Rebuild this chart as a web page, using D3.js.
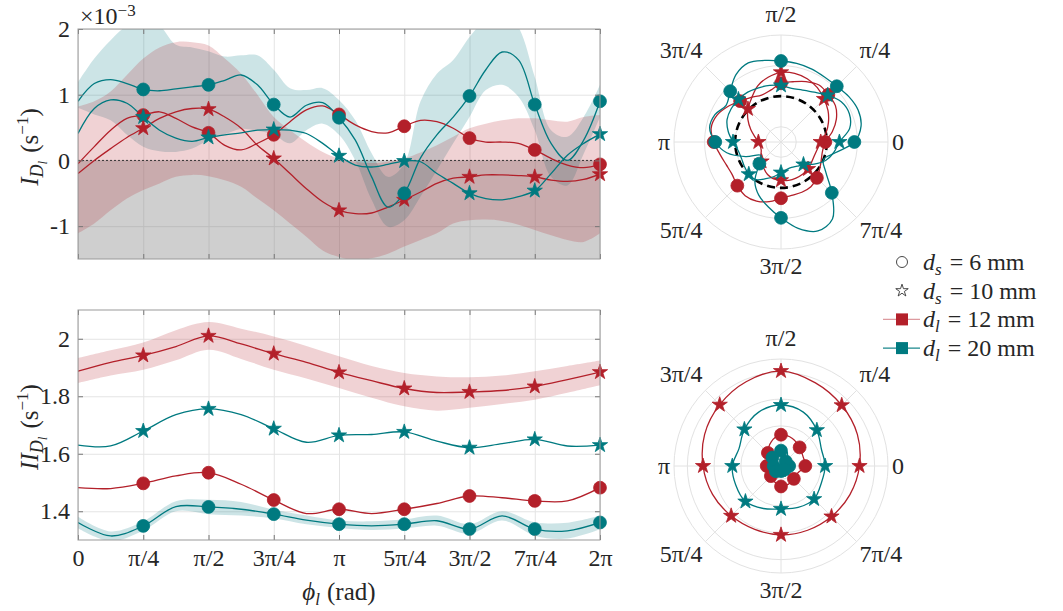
<!DOCTYPE html>
<html>
<head>
<meta charset="utf-8">
<script src="https://cdn.jsdelivr.net/npm/d3@7"></script>
<style>
body { margin: 0; background: #fff; }
svg { font-family: "Liberation Serif", serif; }
</style>
</head>
<body>
<svg id="chart" width="1063" height="611"></svg>
<script>
const PI = Math.PI;

// sample angles: top panel in units of pi/16, bottom panel in units of pi/8
const phiTopUnits = [0,1,2,3,4,5,6,7,8,9,10,11,12,13,14,15,16,17,18,19,20,21,22,23,24,25,26,27,28,29,30,31,32];
const phiBotUnits = [0,1,2,3,4,5,6,7,8,9,10,11,12,13,14,15,16];

// I_Dl (x1e-3 s^-1)
const rcTop = [-0.05,0.21,0.46,0.64,0.69,0.74,0.64,0.51,0.42,0.23,0.16,0.26,0.39,0.59,0.77,0.83,0.70,0.54,0.44,0.42,0.52,0.61,0.59,0.49,0.34,0.28,0.28,0.26,0.16,0.03,-0.07,-0.11,-0.06];
const rsTop = [-0.20,0.00,0.18,0.35,0.49,0.64,0.74,0.79,0.78,0.66,0.49,0.23,0.03,-0.20,-0.43,-0.63,-0.76,-0.81,-0.80,-0.71,-0.60,-0.48,-0.35,-0.27,-0.25,-0.22,-0.22,-0.23,-0.25,-0.30,-0.32,-0.29,-0.21];
const tcTop = [0.90,1.17,1.23,1.17,1.08,1.06,1.09,1.12,1.15,1.22,1.30,1.15,0.85,0.66,0.84,0.88,0.65,0.31,-0.25,-0.71,-0.50,0.04,0.39,0.66,0.98,1.38,1.65,1.53,0.85,0.26,0.00,0.31,0.90];
const tsTop = [0.41,0.79,0.92,0.87,0.66,0.46,0.34,0.29,0.35,0.39,0.42,0.46,0.47,0.46,0.41,0.26,0.07,-0.07,-0.10,-0.06,-0.01,-0.02,-0.20,-0.35,-0.50,-0.58,-0.60,-0.55,-0.46,-0.20,0.08,0.26,0.40];
// uncertainty bands, top panel
const tcUpTop = [1.19,1.55,1.83,2.05,2.15,2.05,1.76,1.72,1.66,1.58,1.60,1.60,1.38,1.10,1.07,1.10,0.92,0.61,0.11,-0.25,-0.05,0.90,1.32,1.53,1.88,2.15,2.30,2.03,1.27,0.46,0.36,0.66,1.15];
const tcLoTop = [0.80,0.70,0.61,0.39,0.21,0.14,0.13,0.18,0.31,0.40,0.48,0.45,0.39,0.26,0.46,0.56,0.39,0.00,-0.60,-1.01,-0.91,-0.55,-0.15,0.26,0.66,1.07,1.15,0.97,0.46,-0.25,-0.38,0.10,0.66];
const rsUpTop = [0.82,0.90,1.05,1.30,1.55,1.72,1.80,1.80,1.75,1.55,1.32,1.00,0.66,0.46,0.28,0.13,0.03,-0.02,-0.04,-0.02,0.03,0.12,0.23,0.36,0.49,0.56,0.61,0.64,0.64,0.61,0.59,0.66,0.69];
const rsLoTop = [-1.11,-0.96,-0.76,-0.58,-0.45,-0.35,-0.25,-0.22,-0.24,-0.30,-0.40,-0.58,-0.76,-0.96,-1.16,-1.37,-1.47,-1.52,-1.49,-1.42,-1.31,-1.21,-1.11,-0.96,-0.91,-0.90,-0.92,-0.98,-1.06,-1.14,-1.21,-1.24,-1.11];

// II_Dl (s^-1)
const rsBot = [1.887,1.918,1.942,1.973,2.010,1.982,1.948,1.918,1.883,1.854,1.827,1.813,1.815,1.820,1.834,1.858,1.884];
const tsBot = [1.630,1.627,1.679,1.736,1.756,1.736,1.687,1.640,1.664,1.667,1.676,1.644,1.621,1.635,1.650,1.627,1.630];
const rcBot = [1.482,1.479,1.497,1.523,1.534,1.494,1.439,1.392,1.407,1.392,1.407,1.427,1.453,1.447,1.436,1.436,1.482];
const tcBot = [1.361,1.314,1.349,1.416,1.415,1.407,1.390,1.369,1.355,1.349,1.355,1.367,1.338,1.384,1.338,1.332,1.361];
const rsUpBot = [1.933,1.960,1.987,2.030,2.058,2.035,2.008,1.975,1.939,1.905,1.881,1.869,1.866,1.872,1.887,1.905,1.924];
const rsLoBot = [1.846,1.872,1.892,1.925,1.962,1.930,1.892,1.862,1.829,1.795,1.765,1.750,1.760,1.773,1.788,1.812,1.838];
const tcUpBot = [1.381,1.330,1.365,1.435,1.440,1.432,1.405,1.385,1.368,1.365,1.372,1.385,1.355,1.400,1.362,1.360,1.385];
const tcLoBot = [1.341,1.296,1.333,1.400,1.390,1.385,1.375,1.355,1.342,1.335,1.340,1.350,1.322,1.368,1.315,1.305,1.337];

const xTickUnits = [0,1,2,3,4,5,6,7,8]; // pi/4
const xTickLabels = ["0","π/4","π/2","3π/4","π","5π/4","3π/2","7π/4","2π"];
const yTopTicks = [-1, 0, 1, 2];
const yTopLabels = ["-1", "0", "1", "2"];
const yBotTicks = [1.4, 1.6, 1.8, 2.0];
const yBotLabels = ["1.4", "1.6", "1.8", "2"];
const polarLabels = ["0","π/4","π/2","3π/4","π","5π/4","3π/2","7π/4"];
const topRings = [-1, 0, 1, 2];
const botRings = [1.4, 1.6, 1.8, 2.0, 2.1];

const teal = "#007a80";
const red = "#b3202a";
const textCol = "#262626";
const fs = 24;

const svg = d3.select("#chart");
const phiTop = phiTopUnits.map(u => u * PI / 16);
const phiBot = phiBotUnits.map(u => u * PI / 8);

const x = d3.scaleLinear().domain([0, 2 * PI]).range([78, 600]);
const yTop = d3.scaleLinear().domain([-1.5, 2]).range([259, 29]);
const yBot = d3.scaleLinear().domain([1.3, 2.1]).range([540, 310]);

const circleSym = d3.symbol().type(d3.symbolCircle).size(130);
const starSym = d3.symbol().type(d3.symbolStar).size(72);

const drawPanel = (id, y, phi, series, bands, yTicks, yLabels, showX, negShade) => {
    const x0 = x.range()[0], x1 = x.range()[1];
    const yb = y.range()[0], yt = y.range()[1];
    const w = x1 - x0, h = yb - yt;

    svg.append("clipPath").attr("id", id)
        .append("rect").attr("x", x0).attr("y", yt).attr("width", w).attr("height", h);

    const g = svg.append("g");

    // grid
    const gx = g.append("g").attr("transform", `translate(0,${yb})`)
        .call(d3.axisBottom(x).tickValues(xTickUnits.map(u => u * PI / 4)).tickSize(-h).tickFormat(""));
    gx.selectAll(".domain").remove();
    gx.selectAll("line").attr("stroke", "#e4e4e4");
    const gy = g.append("g").attr("transform", `translate(${x0},0)`)
        .call(d3.axisLeft(y).tickValues(yTicks).tickSize(-w).tickFormat(""));
    gy.selectAll(".domain").remove();
    gy.selectAll("line").attr("stroke", "#e4e4e4");

    const plot = g.append("g").attr("clip-path", `url(#${id})`);

    if (negShade) {
        plot.append("rect")
            .attr("x", x0).attr("width", w)
            .attr("y", y(0)).attr("height", yb - y(0))
            .attr("fill", "#808080").attr("fill-opacity", 0.38);
    }

    bands.forEach(b => {
        const area = d3.area()
            .x((d, i) => x(phi[i]))
            .y0((d, i) => y(b.lo[i]))
            .y1((d, i) => y(b.up[i]))
            .curve(d3.curveCatmullRom);
        plot.append("path").datum(b.up).attr("d", area)
            .attr("fill", b.color).attr("fill-opacity", 0.2);
    });

    if (negShade) {
        plot.append("line")
            .attr("x1", x0).attr("x2", x1).attr("y1", y(0)).attr("y2", y(0))
            .attr("stroke", "#333").attr("stroke-width", 1).attr("stroke-dasharray", "2,2");
    }

    const line = d3.line().x(d => x(d[0])).y(d => y(d[1])).curve(d3.curveCatmullRom);
    const step = (phi.length - 1) / 8;
    series.forEach(s => {
        const pts = phi.map((p, i) => [p, s.vals[i]]);
        plot.append("path").datum(pts).attr("d", line)
            .attr("fill", "none").attr("stroke", s.color).attr("stroke-width", 1.3);
        const marks = pts.filter((d, i) => i > 0 && i % step === 0);
        g.selectAll(null).data(marks).enter().append("path")
            .attr("transform", d => `translate(${x(d[0])},${y(d[1])})`)
            .attr("d", s.marker === "star" ? starSym : circleSym)
            .attr("fill", s.color).attr("stroke", s.color).attr("stroke-width", 0.8);
    });

    // box and ticks
    const tickStyle = sel => {
        sel.selectAll(".domain").remove();
        sel.selectAll("line").attr("stroke", "#777");
        sel.selectAll("text").attr("fill", textCol).attr("font-size", fs)
            .attr("font-family", "Liberation Serif, serif");
    };
    g.append("g").attr("transform", `translate(0,${yb})`)
        .call(d3.axisBottom(x).tickValues(xTickUnits.map(u => u * PI / 4)).tickSize(-5).tickPadding(9)
            .tickFormat((d, i) => showX ? xTickLabels[i] : ""))
        .call(tickStyle);
    g.append("g").attr("transform", `translate(0,${yt})`)
        .call(d3.axisTop(x).tickValues(xTickUnits.map(u => u * PI / 4)).tickSize(-5).tickFormat(""))
        .call(tickStyle);
    g.append("g").attr("transform", `translate(${x0},0)`)
        .call(d3.axisLeft(y).tickValues(yTicks).tickSize(-5).tickPadding(8).tickFormat((d, i) => yLabels[i]))
        .call(tickStyle);
    g.append("g").attr("transform", `translate(${x1},0)`)
        .call(d3.axisRight(y).tickValues(yTicks).tickSize(-5).tickFormat(""))
        .call(tickStyle);
    g.append("rect").attr("x", x0).attr("y", yt).attr("width", w).attr("height", h)
        .attr("fill", "none").attr("stroke", "#999").attr("stroke-width", 1);
};

const topSeries = [
    { vals: rcTop, color: red, marker: "circle" },
    { vals: rsTop, color: red, marker: "star" },
    { vals: tcTop, color: teal, marker: "circle" },
    { vals: tsTop, color: teal, marker: "star" }
];
const botSeries = [
    { vals: rsBot, color: red, marker: "star" },
    { vals: tsBot, color: teal, marker: "star" },
    { vals: rcBot, color: red, marker: "circle" },
    { vals: tcBot, color: teal, marker: "circle" }
];

drawPanel("clipTop", yTop, phiTop, topSeries,
    [{ up: tcUpTop, lo: tcLoTop, color: teal }, { up: rsUpTop, lo: rsLoTop, color: red }],
    yTopTicks, yTopLabels, false, true);
drawPanel("clipBot", yBot, phiBot, botSeries,
    [{ up: rsUpBot, lo: rsLoBot, color: red }, { up: tcUpBot, lo: tcLoBot, color: teal }],
    yBotTicks, yBotLabels, true, false);

// exponent and axis labels
const expo = svg.append("text").attr("x", 80).attr("y", 24).attr("font-size", fs).attr("fill", textCol);
expo.append("tspan").text("×10");
expo.append("tspan").attr("font-size", 17).attr("dy", -8).text("−3");

const yLabel = (cx, cy, prefix) => {
    const t = svg.append("text").attr("transform", `translate(${cx},${cy}) rotate(-90)`)
        .attr("text-anchor", "middle").attr("font-size", 25).attr("fill", textCol);
    t.append("tspan").attr("font-style", "italic").text(prefix);
    t.append("tspan").attr("font-style", "italic").attr("font-size", 18).attr("dy", 5).text("D");
    t.append("tspan").attr("font-style", "italic").attr("font-size", 13).attr("dy", 4).text("l");
    t.append("tspan").attr("dy", -9).attr("dx", 8).text("(s");
    t.append("tspan").attr("font-size", 17).attr("dy", -10).text("−1");
    t.append("tspan").attr("dy", 10).text(")");
};
yLabel(38, 147, "I");
yLabel(38, 427, "II");

const xl = svg.append("text").attr("x", 339).attr("y", 600).attr("text-anchor", "middle")
    .attr("font-size", 25).attr("fill", textCol);
xl.append("tspan").attr("font-style", "italic").text("ϕ");
xl.append("tspan").attr("font-style", "italic").attr("font-size", 17).attr("dy", 5).text("l");
xl.append("tspan").attr("dy", -5).attr("dx", 7).text("(rad)");

// polar panels
const R = 107;
const drawPolar = (cx, cy, rDomain, rings, series, phi, dashedAt) => {
    const g = svg.append("g").attr("transform", `translate(${cx},${cy})`);
    const r = d3.scaleLinear().domain(rDomain).range([0, R]);
    g.selectAll(null).data(rings).enter().append("circle")
        .attr("r", d => r(d)).attr("fill", "none").attr("stroke", "#e2e2e2").attr("stroke-width", 1);
    const spokes = d3.range(8).map(k => k * PI / 4);
    g.selectAll(null).data(spokes).enter().append("line")
        .attr("x1", 0).attr("y1", 0)
        .attr("x2", d => R * Math.cos(d)).attr("y2", d => -R * Math.sin(d))
        .attr("stroke", "#e2e2e2").attr("stroke-width", 1);

    spokes.forEach((a, k) => {
        const ux = Math.cos(a), uy = Math.sin(a);
        const rr = Math.abs(uy) > 0.9 ? 114 : 111;
        const px = rr * ux, py = -rr * uy;
        const anchor = ux > 0.3 ? "start" : (ux < -0.3 ? "end" : "middle");
        let ty = py + 8;
        if (uy > 0.3) ty = py - 6;
        if (uy < -0.3) ty = py + 18;
        g.append("text").attr("x", px).attr("y", ty).attr("text-anchor", anchor)
            .attr("font-size", fs).attr("fill", textCol).text(polarLabels[k]);
    });

    if (dashedAt !== null) {
        g.append("circle").attr("r", r(dashedAt)).attr("fill", "none")
            .attr("stroke", "#000").attr("stroke-width", 2.6).attr("stroke-dasharray", "8,5");
    }

    const line = d3.lineRadial()
        .angle(d => PI / 2 - d[0])
        .radius(d => r(d[1]))
        .curve(d3.curveCatmullRomClosed);
    const step = (phi.length - 1) / 8;
    series.forEach(s => {
        const pts = phi.slice(0, -1).map((p, i) => [p, s.vals[i]]);
        g.append("path").datum(pts).attr("d", line)
            .attr("fill", "none").attr("stroke", s.color).attr("stroke-width", 1.3);
        const marks = pts.filter((d, i) => i % step === 0);
        g.selectAll(null).data(marks).enter().append("path")
            .attr("transform", d => `translate(${r(d[1]) * Math.cos(d[0])},${-r(d[1]) * Math.sin(d[0])})`)
            .attr("d", s.marker === "star" ? starSym : circleSym)
            .attr("fill", s.color).attr("stroke", s.color).attr("stroke-width", 0.8);
    });
};

drawPolar(781, 142, [-1.5, 2], topRings, topSeries, phiTop, 0);
drawPolar(781, 466, [1.3, 2.1], botRings, botSeries, phiBot, null);

// legend
const legendItems = [
    { sub: "s", val: "6 mm", marker: "circle", color: null },
    { sub: "s", val: "10 mm", marker: "star", color: null },
    { sub: "l", val: "12 mm", marker: "square", color: red },
    { sub: "l", val: "20 mm", marker: "square", color: teal }
];
const legend = svg.append("g");
legendItems.forEach((it, i) => {
    const cy = 262 + i * 28.7;
    if (it.marker === "circle") {
        legend.append("circle").attr("cx", 902).attr("cy", cy).attr("r", 5.5)
            .attr("fill", "none").attr("stroke", "#333").attr("stroke-width", 0.9);
    } else if (it.marker === "star") {
        legend.append("path").attr("transform", `translate(902,${cy})`)
            .attr("d", d3.symbol().type(d3.symbolStar).size(48))
            .attr("fill", "none").attr("stroke", "#333").attr("stroke-width", 0.9);
    } else {
        legend.append("line").attr("x1", 883).attr("x2", 920).attr("y1", cy).attr("y2", cy)
            .attr("stroke", it.color).attr("stroke-opacity", it.color === red ? 0.45 : 0.9).attr("stroke-width", 1.3);
        legend.append("rect").attr("x", 896).attr("y", cy - 6).attr("width", 12).attr("height", 12)
            .attr("fill", it.color);
    }
    const t = legend.append("text").attr("x", 923).attr("y", cy + 8).attr("font-size", fs).attr("fill", textCol);
    t.append("tspan").attr("font-style", "italic").text("d");
    t.append("tspan").attr("font-style", "italic").attr("font-size", 17).attr("dy", 5).text(it.sub);
    t.append("tspan").attr("dy", -5).attr("dx", 8).text("= " + it.val);
});
</script>
</body>
</html>
